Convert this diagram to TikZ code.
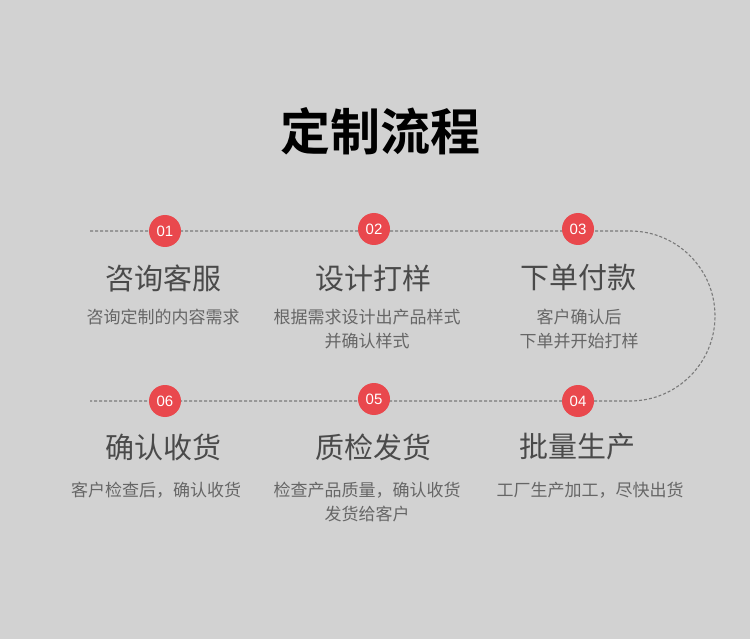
\documentclass[tikz,border=0pt]{standalone}
\usepackage{fontspec}
\newfontfamily\cjk{Noto Sans CJK SC}[BoldFont=* Bold]
\newfontfamily\numf{Liberation Sans}
\definecolor{bg}{HTML}{D2D2D2}
\definecolor{dot}{HTML}{E9484D}
\definecolor{head}{HTML}{4A4A4A}
\definecolor{sub}{HTML}{666666}
\definecolor{dash}{HTML}{7A7A7A}
\tikzset{
  num/.style={circle,fill=dot,minimum size=32pt,inner sep=0pt,text=white,font=\numf\fontsize{15}{15}\selectfont},
  headtxt/.style={text=head,font=\cjk\fontsize{29}{29}\selectfont,inner sep=0pt},
  subtxt/.style={text=sub,font=\cjk\fontsize{17}{24}\selectfont,align=center,inner sep=0pt},
  track/.style={draw=dash,line width=1.1pt,dash pattern=on 3pt off 2pt}
}
\begin{document}
\begin{tikzpicture}[x=1pt,y=-1pt]
\fill[bg] (0,0) rectangle (750,639);
\useasboundingbox (0,0) rectangle (750,639);
\node[font=\cjk\bfseries\fontsize{50}{50}\selectfont,text=black,inner sep=0pt] (title) at (380,131) {定制流程};
\coordinate (tl) at (90,231);
\coordinate (bl) at (90,401);
\coordinate (tr) at (630,231);
\coordinate (br) at (630,401);
\draw[track] (tl) -- (tr) arc[start angle=-90,end angle=90,radius=85] -- (bl);
\node[num] (n1) at (165,231) {01};
\node[num] (n2) at (374,229) {02};
\node[num] (n3) at (578,229) {03};
\node[num] (n6) at (165,401) {06};
\node[num] (n5) at (374,399) {05};
\node[num] (n4) at (578,401) {04};
\node[headtxt] (h1) at (163,278) {咨询客服};
\node[headtxt] (h2) at (373,278) {设计打样};
\node[headtxt] (h3) at (578,278) {下单付款};
\node[headtxt] (h6) at (163,447) {确认收货};
\node[headtxt] (h5) at (373,447) {质检发货};
\node[headtxt] (h4) at (577,447) {批量生产};
\node[subtxt,anchor=north] (s1) at (163,309) {咨询定制的内容需求};
\node[subtxt,anchor=north] (s2) at (367,309) {根据需求设计出产品样式\\并确认样式};
\node[subtxt,anchor=north] (s3) at (579,309) {客户确认后\\下单并开始打样};
\node[subtxt,anchor=north] (s6) at (156,482) {客户检查后，确认收货};
\node[subtxt,anchor=north] (s5) at (367,482) {检查产品质量，确认收货\\发货给客户};
\node[subtxt,anchor=north] (s4) at (590,482) {工厂生产加工，尽快出货};
\end{tikzpicture}
\end{document}
